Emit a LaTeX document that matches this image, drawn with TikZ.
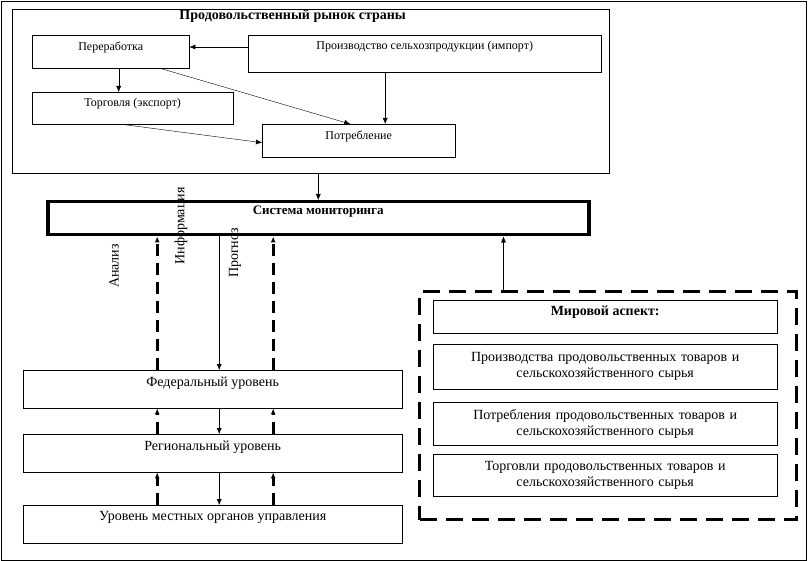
\documentclass[tikz,border=0pt]{standalone}
\usepackage{fontspec}
\setmainfont{Liberation Serif}
\usetikzlibrary{arrows.meta}

\begin{document}
\begin{tikzpicture}[x=1pt,y=-1pt]
        \tikzset{box/.style={draw,rectangle,anchor=north west,inner sep=2pt},
            small/.style={font=\fontsize{12}{14}\selectfont},
            big/.style={font=\fontsize{14}{16}\selectfont},
            arr/.style={-{Latex[length=6pt,width=5pt]}},
            dasharr/.style={arr,line width=2.8pt,dash pattern=on 12pt off 7pt}}
        \useasboundingbox (0,0) rectangle (808,561);
        \draw[line width=0.8pt] (1,1) rectangle (806,560);
        % food market of the country
        \node[box,minimum width=597,minimum height=164] (market) at (12,9) {};
        \node[anchor=north,font=\bfseries\fontsize{14}{16}\selectfont,inner sep=0pt] (title) at ([xshift=-18pt,yshift=-1pt]market.north) {Продовольственный рынок страны};
        \node[box,minimum width=157,minimum height=33] (pererab) at (32,35) {};
        \node[small,anchor=north] (pererabt) at ([yshift=-3pt]pererab.north) {Переработка};
        \node[box,minimum width=353,minimum height=37] (prod) at (248,35) {};
        \node[small,anchor=north] (prodt) at ([yshift=-3pt]prod.north) {Производство сельхозпродукции (импорт)};
        \node[box,minimum width=201,minimum height=32] (torg) at (32,92) {};
        \node[small,anchor=north] (torgt) at ([yshift=-3pt]torg.north) {Торговля (экспорт)};
        \node[box,minimum width=193,minimum height=33] (potr) at (262,124) {};
        \node[small,anchor=north] (potrt) at ([yshift=-3pt]potr.north) {Потребление};
        \draw[arr] ([yshift=-12]prod.north west) -- ([yshift=-12]pererab.north east);
        \draw[arr] ([xshift=8]pererab.south) -- ([xshift=8]pererab.south |- torg.north);
        \draw[arr] ([xshift=-29]pererab.south east) -- ([xshift=-8.5]potr.north);
        \draw[arr] ([xshift=-39.5]prod.south) -- ([xshift=-39.5]prod.south |- potr.north);
        \draw[arr] ([xshift=-10.5]torg.south) -- ([yshift=-2]potr.west);
        % monitoring system
        \node[box,line width=3.5pt,minimum width=541,minimum height=33] (monitor) at (46,200) {};
        \node[anchor=north,font=\bfseries\fontsize{13}{15}\selectfont] (monitort) at ([yshift=-2pt]monitor.north) {Система мониторинга};
        \draw[arr] (monitor.north |- market.south) -- (monitor.north);
        % levels
        \node[box,minimum width=379,minimum height=38] (fed) at (23,370) {};
        \node[big,anchor=north] (fedt) at ([yshift=-3pt]fed.north) {Федеральный уровень};
        \node[box,minimum width=379,minimum height=38] (reg) at (23,434) {};
        \node[big,anchor=north] (regt) at ([yshift=-3pt]reg.north) {Региональный уровень};
        \node[box,minimum width=379,minimum height=38] (loc) at (23,505) {};
        \node[big,anchor=north] (loct) at ([yshift=-3pt]loc.north) {Уровень местных органов управления};
        \draw[dasharr] ([xshift=-55.5]fed.north) -- ([xshift=-55.5]fed.north |- monitor.south);
        \draw[dasharr] ([xshift=60.5]fed.north) -- ([xshift=60.5]fed.north |- monitor.south);
        \draw[arr] ([xshift=6.5]fed.north |- monitor.south) -- ([xshift=6.5]fed.north);
        \draw[dasharr] ([xshift=-55.5]reg.north) -- ([xshift=-55.5]fed.south);
        \draw[dasharr] ([xshift=60.5]reg.north) -- ([xshift=60.5]fed.south);
        \draw[arr] ([xshift=6.5]fed.south) -- ([xshift=6.5]reg.north);
        \draw[dasharr] ([xshift=-55.5]loc.north) -- ([xshift=-55.5]reg.south);
        \draw[dasharr] ([xshift=60.5]loc.north) -- ([xshift=60.5]reg.south);
        \draw[arr] ([xshift=6.5]reg.south) -- ([xshift=6.5]loc.north);
        \node[big,rotate=90] (analiz) at (114,266) {Анализ};
        \node[big,rotate=90] (inform) at (181,226) {Информация};
        \node[big,rotate=90] (prognoz) at (235,253) {Прогноз};
        % world aspect
        \node[box,line width=3pt,dash pattern=on 17pt off 9pt,minimum width=377,minimum height=228] (world) at (418,290) {};
        \draw[arr] ([xshift=-104.5]world.north) -- ([xshift=-104.5]world.north |- monitor.south);
        \node[box,minimum width=344,minimum height=33] (aspect) at (433,300) {};
        \node[anchor=north,font=\bfseries\fontsize{14}{16}\selectfont] (aspectt) at ([yshift=-2pt]aspect.north) {Мировой аспект:};
        \node[box,big,align=center,minimum width=344,minimum height=45,text width=336] (wprod) at (433,344) {Производства продовольственных товаров и\\сельскохозяйственного сырья};
        \node[box,big,align=center,minimum width=344,minimum height=43,text width=336] (wpotr) at (433,402) {Потребления продовольственных товаров и\\сельскохозяйственного сырья};
        \node[box,big,align=center,minimum width=344,minimum height=42,text width=336] (wtorg) at (433,454) {Торговли продовольственных товаров и\\сельскохозяйственного сырья};
\end{tikzpicture}
\end{document}
